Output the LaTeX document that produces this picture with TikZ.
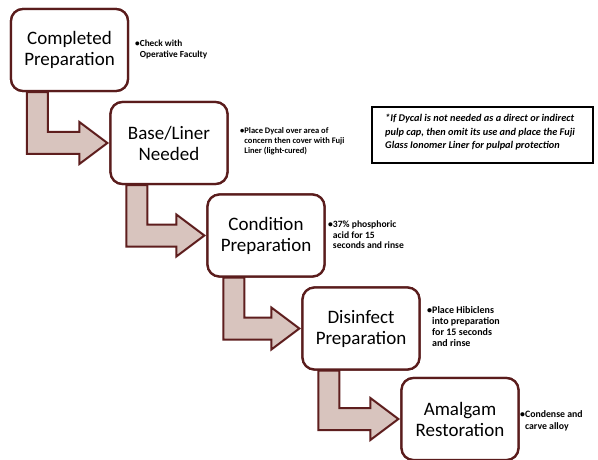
\documentclass[tikz,border=0pt]{standalone}
\usepackage{fontspec}
\setmainfont{Carlito}
\usetikzlibrary{calc}
\definecolor{maroon}{HTML}{5A1C1C}
\definecolor{arrowfill}{HTML}{D8C4BE}
\definecolor{arrowline}{HTML}{5E1E1E}
\tikzset{
  stepbox/.style={draw=maroon, line width=2.3pt, fill=white, rounded corners=12pt,
    minimum width=117pt, minimum height=82pt, align=center, inner sep=0pt,
    font=\fontsize{19}{21}\selectfont},
  flowarrow/.style={draw=arrowline, line width=2pt, fill=arrowfill, line join=miter},
  notetext/.style={anchor=north west, inner sep=0pt, align=left, font=\bfseries},
  asidebox/.style={draw=black, line width=1.2pt, fill=white, minimum width=221pt,
    minimum height=56pt, inner sep=0pt},
  asidetext/.style={anchor=north west, inner sep=0pt, align=left,
    font=\bfseries\itshape\fontsize{10.3}{13.5}\selectfont}
}
\newcommand\stepflow[2]{%
  \path ($(#1.south west)+(17,0)$) coordinate (#1sL)
        ($(#1.south west)+(38,0)$) coordinate (#1sR)
        ($(#2.west)+(0,-11)$) coordinate (#1hT)
        ($(#2.west)+(0,11)$) coordinate (#1hB)
        ($(#2.west)+(-30,-21)$) coordinate (#1aT)
        ($(#2.west)+(-30,21)$) coordinate (#1aB)
        ($(#2.west)+(-2,0)$) coordinate (#1tip);
  \draw[flowarrow] (#1sL) -- (#1sR) -- (#1sR |- #1hT) -- (#1aT |- #1hT) -- (#1aT)
    -- (#1tip) -- (#1aB) -- (#1aB |- #1hB) -- (#1sL |- #1hB) -- cycle;}
\newcommand\hb{\hphantom{\textbullet}}
\begin{document}
\begin{tikzpicture}[x=1pt,y=-1pt]
\useasboundingbox[fill=white] (0,0) rectangle (598,460);
% steps
\node[stepbox] (b1) at (69.5,50) {Completed\\Preparation};
\node[stepbox] (b2) at (169,143) {Base/Liner\\Needed};
\node[stepbox] (b3) at (266,235.5) {Condition\\Preparation};
\node[stepbox] (b4) at (361,328.5) {Disinfect\\Preparation};
\node[stepbox] (b5) at (460,419) {Amalgam\\Restoration};
% arrows
\stepflow{b1}{b2}
\stepflow{b2}{b3}
\stepflow{b3}{b4}
\stepflow{b4}{b5}
% redraw boxes on top of arrow stems
\node[stepbox] at (b1) {Completed\\Preparation};
\node[stepbox] at (b2) {Base/Liner\\Needed};
\node[stepbox] at (b3) {Condition\\Preparation};
\node[stepbox] at (b4) {Disinfect\\Preparation};
\node[stepbox] at (b5) {Amalgam\\Restoration};
% notes
\node[notetext, font=\bfseries\fontsize{9.3}{11}\selectfont] (n1) at (135,40) {\textbullet Check with\\\hb Operative Faculty};
\node[notetext, font=\bfseries\fontsize{8.5}{10}\selectfont] (n2) at (240,127) {\textbullet Place Dycal over area of\\\hb concern then cover with Fuji\\\hb Liner (light-cured)};
\node[notetext, font=\bfseries\fontsize{9.6}{10.5}\selectfont] (n3) at (328,221) {\textbullet 37\% phosphoric\\\hb acid for 15\\\hb seconds and rinse};
\node[notetext, font=\bfseries\fontsize{10}{11}\selectfont] (n4) at (427,306) {\textbullet Place Hibiclens\\\hb into preparation\\\hb for 15 seconds\\\hb and rinse};
\node[notetext, font=\bfseries\fontsize{9.8}{12}\selectfont] (n5) at (520,410) {\textbullet Condense and\\\hb carve alloy};
% aside
\node[asidebox] (aside) at (482.5,135) {};
\node[asidetext] (asidet) at (385,114) {*If Dycal is not needed as a direct or indirect\\pulp cap, then omit its use and place the Fuji\\Glass Ionomer Liner for pulpal protection};
\end{tikzpicture}
\end{document}
